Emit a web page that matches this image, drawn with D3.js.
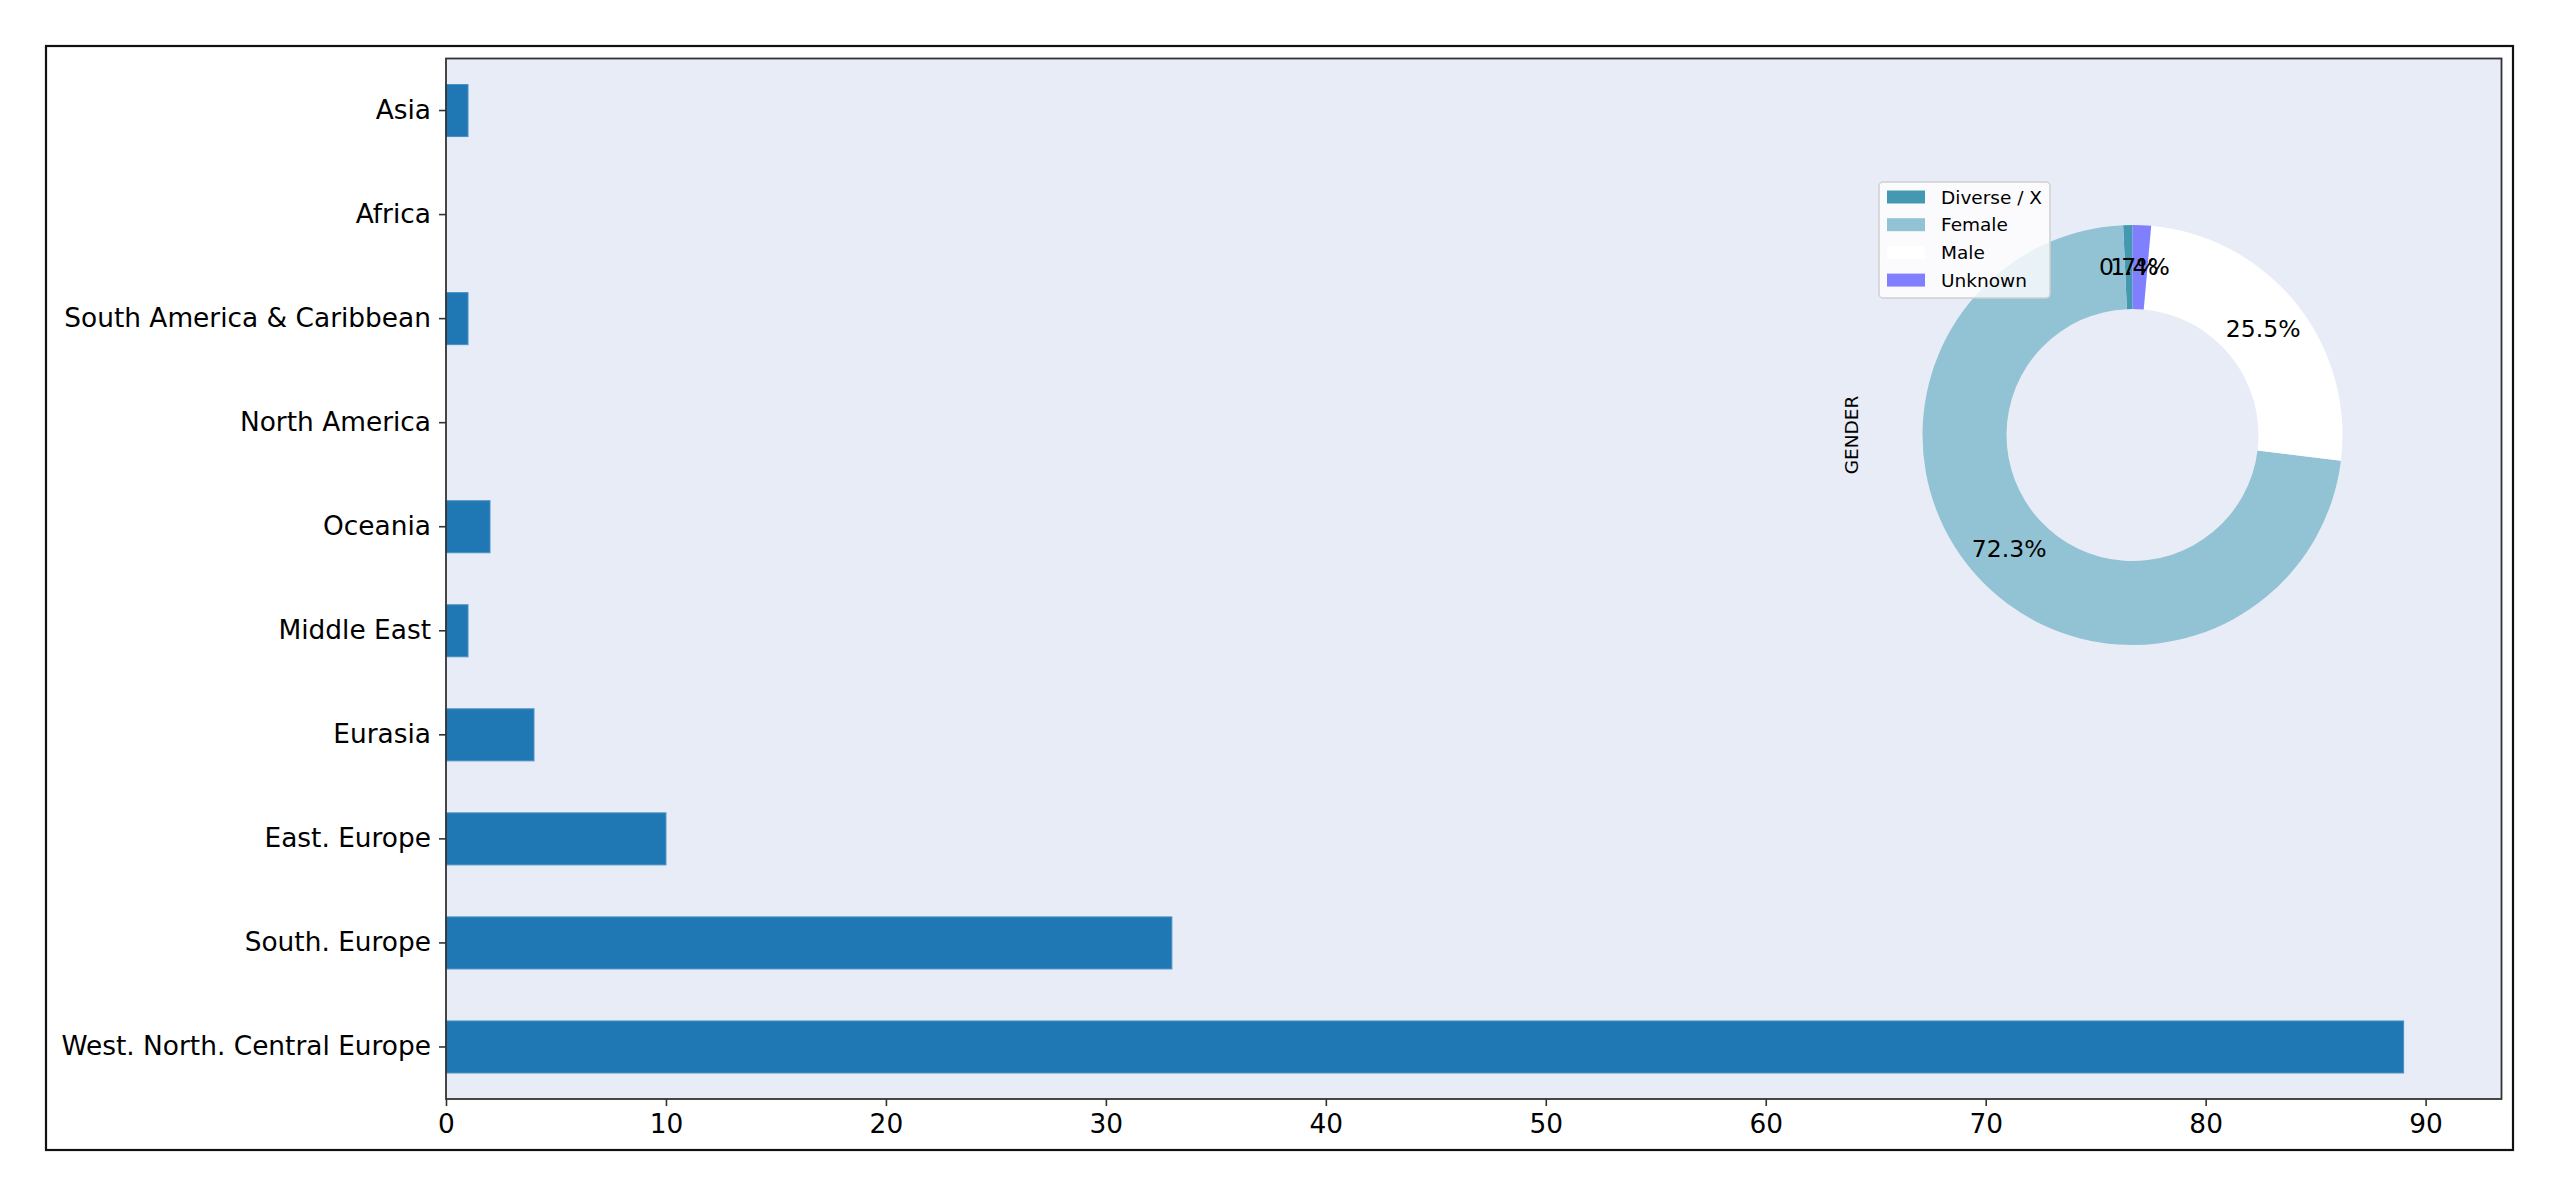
<!DOCTYPE html>
<html>
<head>
<meta charset="utf-8">
<script src="https://cdn.jsdelivr.net/npm/d3@7"></script>
<style>
html, body { margin: 0; padding: 0; background: #fff; }
svg { display: block; }
text { font-family: "DejaVu Sans", sans-serif; fill: #000; }
</style>
</head>
<body>
<svg id="chart" width="2560" height="1197"></svg>
<script>
// ---- data ----
const regions = ["Asia", "Africa", "South America & Caribbean", "North America", "Oceania",
  "Middle East", "Eurasia", "East. Europe", "South. Europe", "West. North. Central Europe"];
const regionCounts = [1, 0, 1, 0, 2, 1, 4, 10, 33, 89];
const xTicks = [0, 10, 20, 30, 40, 50, 60, 70, 80, 90];

const genders = ["Diverse / X", "Female", "Male", "Unknown"];
const genderCounts = [1, 102, 36, 2];
const genderColors = ["#4499b1", "#92c3d4", "#ffffff", "#8080ff"];
const pieTitle = "GENDER";

// ---- layout ----
const W = 2560, H = 1197;
const frame = {x0: 46, y0: 46, x1: 2513, y1: 1150};
const plot = {x0: 446, y0: 58.5, x1: 2501.5, y1: 1099};
const svg = d3.select("#chart");

svg.append("rect").attr("x", 0).attr("y", 0).attr("width", W).attr("height", H).attr("fill", "#fff");
svg.append("rect").attr("x", frame.x0).attr("y", frame.y0)
  .attr("width", frame.x1 - frame.x0).attr("height", frame.y1 - frame.y0)
  .attr("fill", "none").attr("stroke", "#111").attr("stroke-width", 2.2);

svg.append("rect").attr("x", plot.x0).attr("y", plot.y0)
  .attr("width", plot.x1 - plot.x0).attr("height", plot.y1 - plot.y0)
  .attr("fill", "#e8ecf6");

const xMax = d3.max(regionCounts) * 1.05;
const x = d3.scaleLinear().domain([0, xMax]).range([plot.x0, plot.x1]);
const y = d3.scaleBand().domain(regions).range([plot.y0, plot.y1])
  .paddingInner(0.5).paddingOuter(0.25);

svg.append("g").selectAll("rect").data(regions).join("rect")
  .attr("x", x(0))
  .attr("y", d => y(d))
  .attr("width", (d, i) => x(regionCounts[i]) - x(0))
  .attr("height", y.bandwidth())
  .attr("fill", "#1f77b4")
  .attr("stroke", (d, i) => regionCounts[i] > 0 ? "#4a90c4" : "none")
  .attr("stroke-width", 1);

const fs = 26.4;
const xAxis = svg.append("g").attr("transform", `translate(0,${plot.y1})`)
  .call(d3.axisBottom(x).tickValues(xTicks).tickSize(7).tickPadding(8).tickFormat(d3.format("d")));
const yAxis = svg.append("g").attr("transform", `translate(${plot.x0},0)`)
  .call(d3.axisLeft(y).tickSize(7).tickPadding(8));
[xAxis, yAxis].forEach(g => {
  g.select(".domain").remove();
  g.selectAll("text").style("font-size", fs + "px").style("font-family", "DejaVu Sans").attr("fill", "#000");
  g.selectAll("line").attr("stroke", "#333").attr("stroke-width", 1.6);
});

svg.append("rect").attr("x", plot.x0).attr("y", plot.y0)
  .attr("width", plot.x1 - plot.x0).attr("height", plot.y1 - plot.y0)
  .attr("fill", "none").attr("stroke", "#333").attr("stroke-width", 1.8);

// ---- donut ----
const cx = 2132.5, cy = 435, R = 210;
const pieG = svg.append("g").attr("transform", `translate(${cx},${cy})`);
const pie = d3.pie().sort(null).startAngle(0).endAngle(-2 * Math.PI);
const arcs = pie(genderCounts);
const arc = d3.arc().innerRadius(R * 0.6).outerRadius(R);
pieG.selectAll("path").data(arcs).join("path")
  .attr("d", arc)
  .attr("fill", (d, i) => genderColors[i]);
const labelArc = d3.arc().innerRadius(R * 0.8).outerRadius(R * 0.8);
const total = d3.sum(genderCounts);
pieG.selectAll("text").data(arcs).join("text")
  .attr("transform", d => `translate(${labelArc.centroid(d)})`)
  .attr("text-anchor", "middle")
  .attr("dominant-baseline", "central")
  .style("font-size", "23.5px")
  .text(d => (d.value / total * 100).toFixed(1) + "%");

svg.append("text")
  .attr("transform", `translate(1858,${cy}) rotate(-90)`)
  .attr("text-anchor", "middle")
  .style("font-size", "18.5px")
  .text(pieTitle);

// ---- legend ----
const lg = svg.append("g").attr("transform", "translate(1879,182)");
lg.append("rect").attr("x", 0).attr("y", 0).attr("width", 171).attr("height", 116)
  .attr("rx", 4).attr("fill", "#fff").attr("fill-opacity", 0.8)
  .attr("stroke", "#d0d0d0").attr("stroke-width", 1.5);
const items = lg.selectAll("g.item").data(genders).join("g")
  .attr("transform", (d, i) => `translate(0,${15 + i * 27.7})`);
items.append("rect").attr("x", 8).attr("y", -6.5).attr("width", 38).attr("height", 13)
  .attr("fill", (d, i) => genderColors[i]);
items.append("text").attr("x", 62).attr("y", 0).attr("dominant-baseline", "central")
  .style("font-size", "18.5px").text(d => d);
</script>
</body>
</html>
